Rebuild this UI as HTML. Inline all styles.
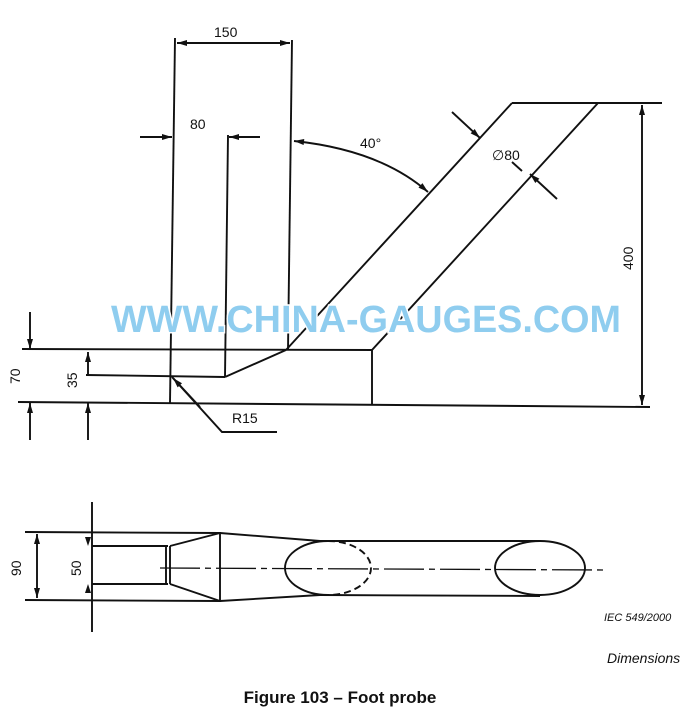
<!DOCTYPE html>
<html><head><style>
html,body{margin:0;padding:0;background:#fff;overflow:hidden;}
svg{display:block;}
text{font-family:"Liberation Sans",sans-serif;fill:#111;}
</style></head><body>
<svg width="680" height="724" viewBox="0 0 680 724" xmlns="http://www.w3.org/2000/svg">
<defs>
<marker id="a" viewBox="0 0 10 6" refX="10" refY="3" markerWidth="11" markerHeight="6" orient="auto-start-reverse" markerUnits="userSpaceOnUse"><path d="M0,0L10,3L0,6z" fill="#111"/></marker>
</defs>
<g stroke="#111" stroke-width="1.9" fill="none">
<line x1="175" y1="38" x2="170" y2="403"/>
<line x1="292" y1="40" x2="288" y2="350"/>
<line x1="177" y1="43" x2="290" y2="43" marker-start="url(#a)" marker-end="url(#a)"/>
<line x1="140" y1="137" x2="172" y2="137" marker-end="url(#a)"/>
<line x1="260" y1="137" x2="229" y2="137" marker-end="url(#a)"/>
<line x1="228" y1="135" x2="225" y2="377"/>
<line x1="286" y1="350" x2="512" y2="103"/>
<line x1="372" y1="350" x2="598" y2="103"/>
<line x1="512" y1="103" x2="662" y2="103"/>
<line x1="642" y1="105" x2="642" y2="405" marker-start="url(#a)" marker-end="url(#a)"/>
<line x1="22" y1="349" x2="372" y2="350"/>
<line x1="372" y1="350" x2="372" y2="404"/>
<line x1="18" y1="402" x2="650" y2="407"/>
<line x1="86" y1="375" x2="225" y2="377"/>
<line x1="225" y1="377" x2="286" y2="350"/>
<line x1="30" y1="312" x2="30" y2="349" marker-end="url(#a)"/>
<line x1="30" y1="440" x2="30" y2="403" marker-end="url(#a)"/>
<line x1="88" y1="352" x2="88" y2="375" marker-start="url(#a)"/>
<line x1="88" y1="440" x2="88" y2="403" marker-end="url(#a)"/>
<polyline points="277,432 222,432 172,377"/>
<line x1="200" y1="407" x2="173" y2="378" marker-end="url(#a)"/>
<path d="M294,141 Q380,150 428,192" marker-start="url(#a)" marker-end="url(#a)"/>
<line x1="452" y1="112" x2="480" y2="138" marker-end="url(#a)"/>
<line x1="557" y1="199" x2="530" y2="174" marker-end="url(#a)"/>
<line x1="512" y1="162" x2="522" y2="171"/>
<line x1="25" y1="532" x2="220" y2="533"/>
<line x1="25" y1="600" x2="220" y2="601"/>
<line x1="37" y1="534" x2="37" y2="598" marker-start="url(#a)" marker-end="url(#a)"/>
<line x1="92" y1="502" x2="92" y2="632"/>
<line x1="92" y1="546" x2="168" y2="546"/>
<line x1="92" y1="584" x2="168" y2="584"/>
<line x1="166" y1="546" x2="166" y2="584"/>
<line x1="170" y1="546" x2="170" y2="584"/>
<line x1="170" y1="546" x2="220" y2="533"/>
<line x1="170" y1="584" x2="220" y2="601"/>
<line x1="220" y1="532" x2="220" y2="602"/>
<line x1="220" y1="533" x2="320" y2="541"/>
<line x1="320" y1="541" x2="540" y2="541"/>
<line x1="220" y1="601" x2="320" y2="595"/>
<line x1="320" y1="595" x2="540" y2="596"/>
<path d="M328,541 A43,27 0 0 0 328,595"/>
<path d="M328,541 A43,27 0 0 1 328,595" stroke-dasharray="7,4"/>
<ellipse cx="540" cy="568" rx="45" ry="27"/>
<line x1="160" y1="568" x2="606" y2="570" stroke-width="1.3" stroke-dasharray="40,5,6,5"/>
</g>
<g fill="#111">
<path d="M88,546l-3,-9h6z"/><path d="M88,584l-3,9h6z"/>
</g>
<text x="214" y="37" font-size="14">150</text>
<text x="190" y="129" font-size="14">80</text>
<text x="360" y="148" font-size="14">40°</text>
<text x="492" y="160" font-size="14">∅80</text>
<text x="232" y="423" font-size="14">R15</text>
<text font-size="14" transform="translate(633,270) rotate(-90)">400</text>
<text font-size="14" transform="translate(20,384) rotate(-90)">70</text>
<text font-size="14" transform="translate(77,388) rotate(-90)">35</text>
<text font-size="14" transform="translate(21,576) rotate(-90)">90</text>
<text font-size="14" transform="translate(81,576) rotate(-90)">50</text>
<text x="604" y="621" font-size="11" font-style="italic">IEC  549/2000</text>
<text x="607" y="663" font-size="14" font-style="italic">Dimensions</text>
<text x="340" y="703" font-size="17" font-weight="bold" text-anchor="middle">Figure 103 – Foot probe</text>
<text x="366" y="332" font-size="38" font-weight="bold" text-anchor="middle" style="fill:#8fcdef;stroke:#fff;stroke-width:3;paint-order:stroke" textLength="510" lengthAdjust="spacingAndGlyphs">WWW.CHINA-GAUGES.COM</text>
</svg>
</body></html>
